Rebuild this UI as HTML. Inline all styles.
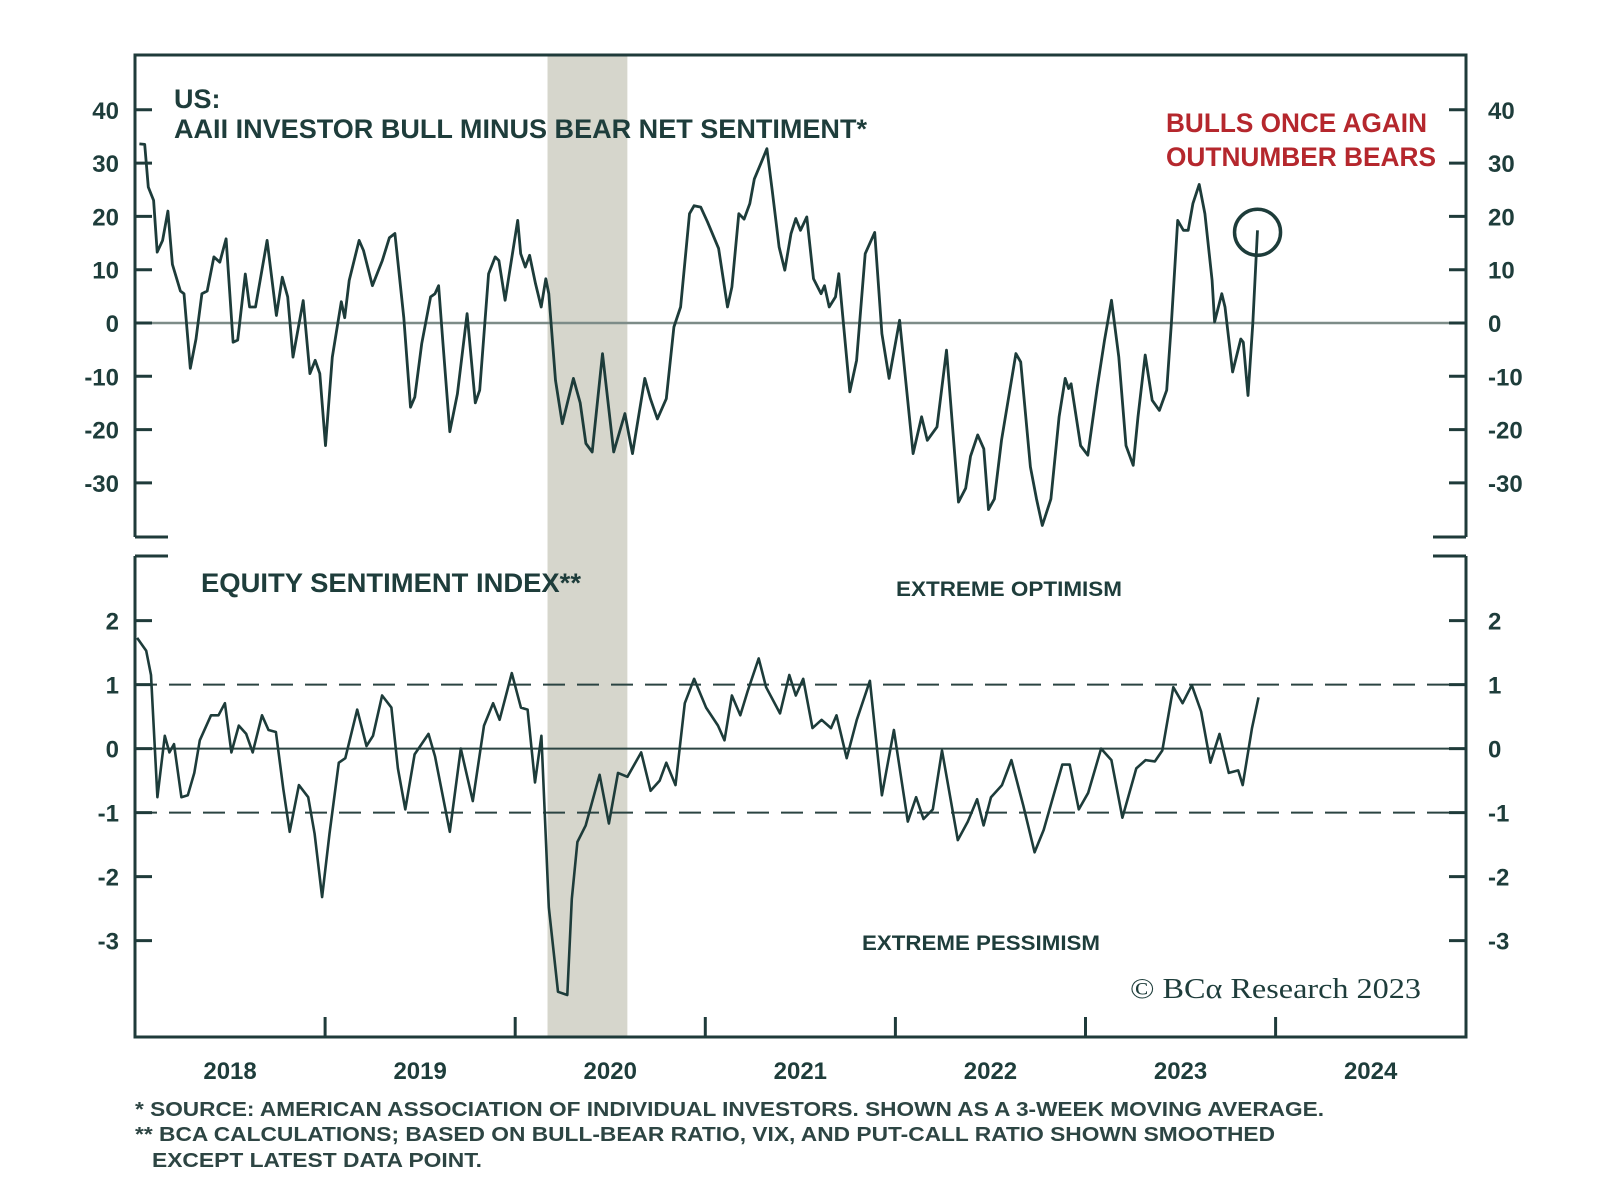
<!DOCTYPE html>
<html><head><meta charset="utf-8"><style>
html,body{margin:0;padding:0;background:#fff;}
svg{display:block;font-family:"Liberation Sans",sans-serif;}
</style></head><body>
<svg id="chart" width="1600" height="1195" viewBox="0 0 1600 1195" xmlns="http://www.w3.org/2000/svg">
<g id="bands"></g>
<g id="grid"></g>
<g id="frame" stroke="#1f3b3a" stroke-width="3" fill="none">
  <path d="M135,537 L135,55 L1466,55 L1466,537"/>
  <path d="M135,537 L168,537 M1433,537 L1466,537"/>
  <path d="M135,556 L168,556 M1433,556 L1466,556"/>
  <path d="M135,556 L135,1037 L1466,1037 L1466,556"/>
</g>
<g id="axes"></g>
<g id="series"></g>
<g fill="#1e3d3b" font-weight="bold">
  <text x="174" y="108" font-size="27">US:</text>
  <text x="174" y="138" font-size="27" textLength="693" lengthAdjust="spacingAndGlyphs">AAII INVESTOR BULL MINUS BEAR NET SENTIMENT*</text>
  <text x="201" y="592" font-size="27" textLength="380" lengthAdjust="spacingAndGlyphs">EQUITY SENTIMENT INDEX**</text>
  <text x="896" y="596" font-size="21" textLength="226" lengthAdjust="spacingAndGlyphs">EXTREME OPTIMISM</text>
  <text x="862" y="950" font-size="21" textLength="238" lengthAdjust="spacingAndGlyphs">EXTREME PESSIMISM</text>
</g>
<g fill="#b5272d" font-weight="bold" font-size="27">
  <text x="1166" y="132" textLength="261" lengthAdjust="spacingAndGlyphs">BULLS ONCE AGAIN</text>
  <text x="1166" y="166" textLength="270" lengthAdjust="spacingAndGlyphs">OUTNUMBER BEARS</text>
</g>
<text x="1130" y="998" font-family="'Liberation Serif',serif" font-size="28" fill="#1e3d3b" textLength="291" lengthAdjust="spacingAndGlyphs">© BCα Research 2023</text>
<g fill="#2d4543" font-size="20" font-weight="bold">
  <text x="135" y="1116" textLength="1189" lengthAdjust="spacingAndGlyphs">* SOURCE: AMERICAN ASSOCIATION OF INDIVIDUAL INVESTORS. SHOWN AS A 3-WEEK MOVING AVERAGE.</text>
  <text x="135" y="1141" textLength="1140" lengthAdjust="spacingAndGlyphs">**  BCA CALCULATIONS; BASED ON BULL-BEAR RATIO, VIX, AND PUT-CALL RATIO SHOWN SMOOTHED</text>
  <text x="152" y="1167" textLength="330" lengthAdjust="spacingAndGlyphs">EXCEPT LATEST DATA POINT.</text>
</g>
</svg>
<script>
const topDates=[2018.023,2018.051,2018.070,2018.098,2018.117,2018.145,2018.173,2018.197,2018.239,2018.258,2018.291,2018.321,2018.352,2018.380,2018.415,2018.446,2018.479,2018.516,2018.540,2018.580,2018.603,2018.634,2018.695,2018.744,2018.775,2018.803,2018.831,2018.885,2018.920,2018.948,2018.972,2019.002,2019.038,2019.085,2019.103,2019.127,2019.179,2019.202,2019.249,2019.301,2019.338,2019.367,2019.414,2019.449,2019.472,2019.508,2019.555,2019.578,2019.597,2019.620,2019.656,2019.696,2019.747,2019.790,2019.813,2019.860,2019.895,2019.914,2019.947,2020.013,2020.029,2020.053,2020.076,2020.107,2020.137,2020.161,2020.177,2020.212,2020.248,2020.306,2020.342,2020.372,2020.405,2020.459,2020.518,2020.577,2020.617,2020.682,2020.711,2020.748,2020.795,2020.835,2020.870,2020.917,2020.941,2020.976,2021.011,2021.070,2021.117,2021.140,2021.176,2021.204,2021.234,2021.258,2021.293,2021.324,2021.352,2021.388,2021.418,2021.451,2021.476,2021.501,2021.534,2021.569,2021.609,2021.627,2021.652,2021.685,2021.702,2021.760,2021.796,2021.841,2021.891,2021.929,2021.967,2022.022,2022.093,2022.138,2022.168,2022.219,2022.269,2022.332,2022.370,2022.395,2022.433,2022.465,2022.490,2022.521,2022.558,2022.634,2022.659,2022.710,2022.742,2022.773,2022.818,2022.861,2022.893,2022.911,2022.924,2022.974,2023.012,2023.062,2023.100,2023.137,2023.175,2023.213,2023.251,2023.276,2023.314,2023.351,2023.389,2023.427,2023.452,2023.485,2023.515,2023.540,2023.565,2023.598,2023.628,2023.666,2023.679,2023.717,2023.734,2023.774,2023.817,2023.830,2023.855,2023.880,2023.905];
const topValues=[33.6,33.5,25.5,23,13.3,15.5,21,11,6,5.5,-8.5,-3,5.5,6,12.4,11.4,15.8,-3.6,-3.2,9.2,3,3,15.5,1.4,8.6,4.9,-6.4,4.2,-9.5,-7,-9.5,-23,-6.4,4,1,8,15.5,13.6,7,11.7,16,16.8,1,-15.8,-13.9,-3.9,4.9,5.5,7,-3.9,-20.4,-13.3,1.75,-15,-12.6,9.25,12.4,11.7,4.25,19.25,13,10.5,12.7,7.4,3,8.3,5.5,-10.75,-18.9,-10.4,-15,-22.6,-24.2,-5.75,-24.2,-17,-24.5,-10.4,-14.2,-18,-14.2,-0.75,3,20.5,22,21.75,19,14,3,6.75,20.5,19.5,22.4,27,30,32.7,24.9,14.25,9.9,16.75,19.6,17.4,19.9,8.3,5.5,7,3,4.9,9.25,-12.9,-7,13,17,-2,-10.4,0.5,-24.5,-17.6,-22,-19.5,-5.1,-33.6,-31,-25,-21,-23.6,-35,-33,-22,-5.75,-7.3,-27,-33,-38,-33,-17.6,-10.4,-12.3,-11.4,-23,-24.8,-12,-3.25,4.25,-6.4,-23,-26.7,-17.6,-6,-14.5,-16.4,-12.6,0,19.25,17.4,17.4,22.4,26,20.5,8,0.2,5.5,3,-9.2,-3,-3.6,-13.6,-0.1,17.4];
const botDates=[2018.011,2018.059,2018.084,2018.118,2018.157,2018.181,2018.205,2018.244,2018.278,2018.312,2018.341,2018.400,2018.439,2018.473,2018.507,2018.546,2018.585,2018.619,2018.668,2018.702,2018.741,2018.780,2018.814,2018.862,2018.911,2018.945,2018.984,2019.023,2019.072,2019.106,2019.169,2019.218,2019.252,2019.300,2019.349,2019.383,2019.422,2019.471,2019.544,2019.578,2019.656,2019.714,2019.777,2019.836,2019.884,2019.918,2019.982,2020.030,2020.065,2020.104,2020.138,2020.177,2020.225,2020.274,2020.298,2020.327,2020.371,2020.444,2020.493,2020.541,2020.590,2020.663,2020.712,2020.760,2020.795,2020.843,2020.892,2020.941,2021.004,2021.067,2021.101,2021.140,2021.184,2021.223,2021.281,2021.320,2021.393,2021.442,2021.476,2021.515,2021.564,2021.612,2021.661,2021.690,2021.744,2021.797,2021.866,2021.929,2021.992,2022.065,2022.109,2022.148,2022.197,2022.245,2022.328,2022.381,2022.430,2022.464,2022.503,2022.561,2022.610,2022.673,2022.732,2022.780,2022.878,2022.917,2022.965,2023.014,2023.082,2023.136,2023.194,2023.267,2023.316,2023.365,2023.404,2023.462,2023.511,2023.559,2023.608,2023.657,2023.705,2023.754,2023.803,2023.827,2023.876,2023.910];
const botValues=[1.73,1.53,1.15,-0.76,0.2,-0.06,0.07,-0.76,-0.73,-0.38,0.13,0.52,0.52,0.71,-0.06,0.36,0.23,-0.06,0.52,0.29,0.26,-0.63,-1.3,-0.57,-0.76,-1.33,-2.32,-1.33,-0.22,-0.15,0.61,0.04,0.2,0.83,0.64,-0.31,-0.95,-0.09,0.23,-0.12,-1.3,0.0,-0.82,0.36,0.71,0.45,1.18,0.64,0.61,-0.53,0.2,-2.48,-3.8,-3.85,-2.35,-1.46,-1.2,-0.41,-1.17,-0.38,-0.44,-0.06,-0.66,-0.5,-0.22,-0.57,0.71,1.09,0.64,0.36,0.13,0.83,0.52,0.9,1.41,0.96,0.55,1.15,0.83,1.09,0.32,0.45,0.32,0.52,-0.15,0.45,1.06,-0.73,0.29,-1.14,-0.76,-1.1,-0.95,-0.03,-1.43,-1.14,-0.79,-1.2,-0.76,-0.57,-0.18,-0.89,-1.62,-1.27,-0.25,-0.25,-0.95,-0.69,0,-0.18,-1.08,-0.31,-0.18,-0.2,-0.03,0.96,0.71,0.99,0.58,-0.22,0.23,-0.38,-0.34,-0.57,0.32,0.8];
const topTicks=[40,30,20,10,0,-10,-20,-30];
const botTicks=[2,1,0,-1,-2,-3];
const yearLabels=["2018","2019","2020","2021","2022","2023","2024"];
const yearBounds=[2019,2020,2021,2022,2023,2024];
const recession=[2020.17,2020.59];

const NS="http://www.w3.org/2000/svg";
const X=t=>135+(t-2018)*190.1;
const YT=v=>323-v*5.33;
const YB=v=>748.6-v*64;
function mk(tag,attrs,parent){const e=document.createElementNS(NS,tag);for(const k in attrs)e.setAttribute(k,attrs[k]);parent.appendChild(e);return e;}
const bands=document.getElementById('bands'),grid=document.getElementById('grid'),axes=document.getElementById('axes'),series=document.getElementById('series');

const rb=mk('rect',{x:X(recession[0]),y:55,width:X(recession[1])-X(recession[0]),height:982,fill:'#d6d6cc'},bands);



const z1=mk('line',{x1:135,x2:1466,y1:YT(0),y2:YT(0),stroke:'#7d8c88','stroke-width':2.5},grid);


const z2=mk('line',{x1:135,x2:1466,y1:YB(0),y2:YB(0),stroke:'#2b4442','stroke-width':2},grid);


[1,-1].forEach(v=>{
  const d=mk('line',{x1:135,x2:1466,y1:YB(v),y2:YB(v),stroke:'#2b4442','stroke-width':2,'stroke-dasharray':'22 12'},grid);
  
  
});

topTicks.forEach(v=>{
  const y=YT(v);
  mk('line',{x1:135,x2:152,y1:y,y2:y,stroke:'#1f3b3a','stroke-width':3},axes);
  mk('line',{x1:1449,x2:1466,y1:y,y2:y,stroke:'#1f3b3a','stroke-width':3},axes);
  const l=mk('text',{x:119,y:y+9,'text-anchor':'end','font-size':24,'font-weight':'bold',fill:'#1e3d3b'},axes);
  l.textContent=v;
  
  
  const r=mk('text',{x:1488,y:y+9,'font-size':24,'font-weight':'bold',fill:'#1e3d3b'},axes);
  r.textContent=v;
  
  
});
botTicks.forEach(v=>{
  const y=YB(v);
  mk('line',{x1:135,x2:152,y1:y,y2:y,stroke:'#1f3b3a','stroke-width':3},axes);
  mk('line',{x1:1449,x2:1466,y1:y,y2:y,stroke:'#1f3b3a','stroke-width':3},axes);
  const l=mk('text',{x:119,y:y+9,'text-anchor':'end','font-size':24,'font-weight':'bold',fill:'#1e3d3b'},axes);
  l.textContent=v;
  
  
  const r=mk('text',{x:1488,y:y+9,'font-size':24,'font-weight':'bold',fill:'#1e3d3b'},axes);
  r.textContent=v;
  
  
});
yearBounds.forEach(t=>{
  mk('line',{x1:X(t),x2:X(t),y1:1017,y2:1037,stroke:'#1f3b3a','stroke-width':3},axes);
});
yearLabels.forEach((s,i)=>{
  const t=mk('text',{x:X(2018+i+0.5),y:1079,'text-anchor':'middle','font-size':24,'font-weight':'bold',fill:'#1e3d3b'},axes);
  t.textContent=s;
  
  
});

function line(dates,vals,Y){return dates.map((d,i)=>(i?'L':'M')+X(d).toFixed(1)+','+Y(vals[i]).toFixed(1)).join(' ');}
const p1=mk('path',{d:line(topDates,topValues,YT),fill:'none',stroke:'#1d3c3a','stroke-width':2.8,'stroke-linejoin':'round'},series);


const p2=mk('path',{d:line(botDates,botValues,YB),fill:'none',stroke:'#1d3c3a','stroke-width':2.6,'stroke-linejoin':'round'},series);


const li=topDates.length-1;
const c=mk('circle',{cx:X(topDates[li]),cy:YT(topValues[li])+2,r:23,fill:'none',stroke:'#1d3c3a','stroke-width':3.5},series);


</script>
</body></html>
